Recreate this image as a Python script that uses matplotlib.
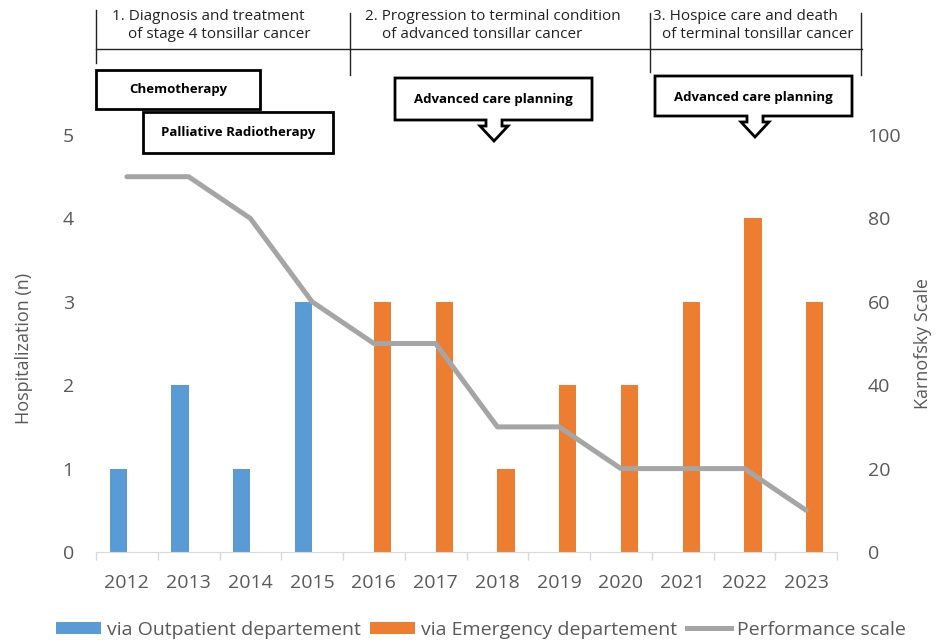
import matplotlib
matplotlib.use('Agg')
import matplotlib.pyplot as plt
import matplotlib.ticker as ticker
from matplotlib.patches import Patch, Polygon
from matplotlib.lines import Line2D
import numpy as np

# == data
years = [2012, 2013, 2014, 2015, 2016, 2017, 2018, 2019, 2020, 2021, 2022, 2023]
outpatient = [1, 2, 1, 3, 0, 0, 0, 0, 0, 0, 0, 0]
emergency = [0, 0, 0, 0, 3, 3, 1, 2, 2, 3, 4, 3]
karnofsky = [90, 90, 80, 60, 50, 50, 30, 30, 20, 20, 20, 10]

phases = [("1. Diagnosis and treatment", "of stage 4 tonsillar cancer"),
          ("2. Progression to terminal condition", "of advanced tonsillar cancer"),
          ("3. Hospice care and death", "of terminal tonsillar cancer")]

BLUE = '#5B9BD5'
ORANGE = '#ED7D31'
GRAY = '#A5A5A5'
TXT = '#595959'

plt.rcParams['font.family'] = ['Open Sans', 'DejaVu Sans']

W, H = 950, 644
fig = plt.figure(figsize=(W / 100, H / 100), dpi=100)

def px(x, y):
    # pixel coords (top-left origin) -> figure fraction
    return x / W, 1 - y / H

ax = fig.add_axes([96 / W, 1 - 552 / H, (837 - 96) / W, (552 - 135) / H])
x = np.arange(len(years))
bw = 0.28
ax.bar(x - bw / 2, outpatient, width=bw, color=BLUE, zorder=2)
ax.bar(x + bw / 2, emergency, width=bw, color=ORANGE, zorder=2)
ax.set_xlim(-0.5, len(years) - 0.5)
ax.set_ylim(0, 5)
ax.set_xticks(x)
ax.set_xticklabels([str(y) for y in years])
ax.xaxis.set_minor_locator(ticker.FixedLocator(np.arange(-0.5, len(years), 1)))
ax.tick_params(axis='x', which='major', length=0, pad=16, labelsize=14, labelcolor=TXT)
ax.tick_params(axis='x', which='minor', length=6, color='#D9D9D9', width=1)
ax.tick_params(axis='y', length=0, pad=16, labelsize=14, labelcolor=TXT)
ax.set_yticks([0, 1, 2, 3, 4, 5])
for s in ['top', 'left', 'right']:
    ax.spines[s].set_visible(False)
ax.spines['bottom'].set_color('#D9D9D9')
ax.set_ylabel('Hospitalization (n)', fontsize=13, color=TXT)
ax.yaxis.set_label_coords((33 - 96) / 741, 0.489)

ax2 = ax.twinx()
ax2.plot(x, karnofsky, color=GRAY, lw=3.6, solid_capstyle='round', solid_joinstyle='round')
ax2.set_ylim(0, 100)
ax2.set_yticks([0, 20, 40, 60, 80, 100])
ax2.tick_params(axis='y', length=0, pad=22, labelsize=14, labelcolor=TXT)
for s in ['top', 'left', 'right', 'bottom']:
    ax2.spines[s].set_visible(False)
ax2.set_ylabel('Karnofsky Scale', fontsize=13, color=TXT)
ax2.yaxis.set_label_coords((914 - 96) / 741, 0.5)

# == phase header lines
fig.add_artist(Line2D(*zip(px(96, 49), px(862, 49)), color='#222222', lw=1))
for vx, y0, y1 in [(96, 10, 63), (350, 13, 75), (650, 13, 72), (861, 13, 75)]:
    fig.add_artist(Line2D(*zip(px(vx, y0), px(vx, y1)), color='#222222', lw=1))

phase_pos = [(112, 128), (365, 382), (653, 662)]
for (l1, l2), (x1, x2) in zip(phases, phase_pos):
    fig.text(*px(x1, 16), l1, fontsize=11, va='center', ha='left', color='#222222')
    fig.text(*px(x2, 35), l2, fontsize=11, va='center', ha='left', color='#222222')

# == boxes
def box(x0, y0, x1, y1, label):
    pts = [px(x0, y0), px(x1, y0), px(x1, y1), px(x0, y1)]
    fig.add_artist(Polygon(pts, closed=True, facecolor='white', edgecolor='black', lw=2))
    fig.text(*px((x0 + x1) / 2, (y0 + y1) / 2), label, fontsize=9.5, fontweight='bold',
             ha='center', va='center')

def callout(x0, y0, x1, y1, cx, label):
    pts = [(x0, y0), (x1, y0), (x1, y1), (cx + 8, y1), (cx + 8, y1 + 6), (cx + 14, y1 + 6),
           (cx, y1 + 21), (cx - 14, y1 + 6), (cx - 8, y1 + 6), (cx - 8, y1), (x0, y1)]
    fig.add_artist(Polygon([px(a, b) for a, b in pts], closed=True, facecolor='white',
                           edgecolor='black', lw=2, joinstyle='miter'))
    fig.text(*px((x0 + x1) / 2, (y0 + y1) / 2 + 1), label, fontsize=9.5, fontweight='bold',
             ha='center', va='center')

box(96, 70, 260, 109, 'Chemotherapy')
box(143, 112, 333, 153, 'Palliative Radiotherapy')
callout(395, 78, 592, 120, 494, 'Advanced care planning')
callout(655, 76, 852, 116, 755, 'Advanced care planning')

# == legend
handles = [Patch(facecolor=BLUE, label='via Outpatient departement'),
           Patch(facecolor=ORANGE, label='via Emergency departement'),
           Line2D([], [], color=GRAY, lw=3.6, label='Performance scale')]
fig.legend(handles=handles, loc='center', bbox_to_anchor=(px(481, 630)), ncol=3,
           frameon=False, fontsize=14, handlelength=2.3, handleheight=0.6,
           handletextpad=0.3, columnspacing=0.5, labelcolor=TXT)

plt.savefig('out.png', dpi=100)
